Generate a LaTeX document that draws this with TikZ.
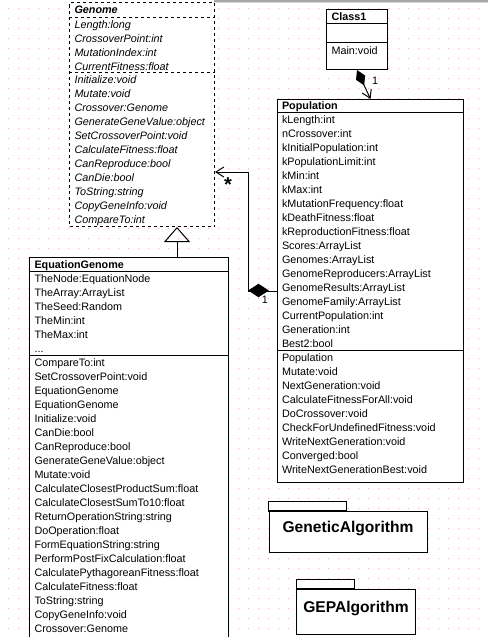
\documentclass[tikz,border=0pt]{standalone}
\usepackage{fontspec}
\setmainfont{Liberation Sans}
\usetikzlibrary{arrows.meta}
\usetikzlibrary{shapes.geometric}
\definecolor{griddot}{RGB}{255,178,190}

\begin{document}
\begin{tikzpicture}[x=1pt, y=-1pt, line width=1pt]
\newcommand{\rowfont}{\fontsize{10.8}{13}\selectfont}
\tikzset{
  cls/.style={draw, fill=white, inner sep=0, anchor=north west},
  row/.style={anchor=base west, inner sep=0, font=\rowfont},
  hd/.style={anchor=base west, inner sep=0, font=\rowfont\bfseries},
  mult/.style={inner sep=0, font=\rowfont},
  tip/.style={-{Straight Barb[length=8pt,width=10pt]}},
  pkgname/.style={inner sep=0, font=\fontsize{15.6}{18}\selectfont\bfseries},
  dsh/.style={dash pattern=on 3pt off 3pt}
}
\useasboundingbox (0,0) rectangle (488,637);
\fill[white] (0,0) rectangle (488,637);
\fill[griddot] \foreach \x in {8,18,...,478} {\foreach \y in {8,18,...,628} {(\x,\y) rectangle ++(1,1)}};
\fill[gray!70] (214,0) rectangle (488,1.5);
\fill[gray!30] (214,1.5) rectangle (488,3);
\node (genome) [cls, dsh, minimum width=145, minimum height=224] at (69,2) {};
\draw[dsh] (genome.west |- 0,17) -- (genome.east |- 0,17) (genome.west |- 0,72) -- (genome.east |- 0,72);
\node[hd, font=\rowfont\bfseries\itshape] (genome-t) at (74,13.5) {Genome};
\foreach \t [count=\i from 0] in {Length:long, CrossoverPoint:int, MutationIndex:int, CurrentFitness:float} \node[row, font=\rowfont\itshape] (ga\i) at (74,28+14*\i) {\t};
\foreach \t [count=\i from 0] in {Initialize:void, Mutate:void, Crossover:Genome, GenerateGeneValue:object, SetCrossoverPoint:void, CalculateFitness:float, CanReproduce:bool, CanDie:bool, ToString:string, CopyGeneInfo:void, CompareTo:int} \node[row, font=\rowfont\itshape] (go\i) at (74,83+14*\i) {\t};
\node (class1) [cls, minimum width=61, minimum height=60] at (326,9) {};
\draw (class1.west |- 0,23) -- (class1.east |- 0,23) (class1.west |- 0,42) -- (class1.east |- 0,42);
\node[hd] (class1-t) at (331,20) {Class1};
\node[row] (class1-m) at (331,54.5) {Main:void};
\node (population) [cls, minimum width=186, minimum height=383] at (277,99) {};
\draw (population.west |- 0,112) -- (population.east |- 0,112) (population.west |- 0,350) -- (population.east |- 0,350);
\node[hd] (population-t) at (281.5,109.5) {Population};
\foreach \t [count=\i from 0] in {kLength:int, nCrossover:int, kInitialPopulation:int, kPopulationLimit:int, kMin:int, kMax:int, kMutationFrequency:float, kDeathFitness:float, kReproductionFitness:float, Scores:ArrayList, Genomes:ArrayList, GenomeReproducers:ArrayList, GenomeResults:ArrayList, GenomeFamily:ArrayList, CurrentPopulation:int, Generation:int, Best2:bool} \node[row] (pa\i) at (281.5,123+14*\i) {\t};
\foreach \t [count=\i from 0] in {Population, Mutate:void, NextGeneration:void, CalculateFitnessForAll:void, DoCrossover:void, CheckForUndefinedFitness:void, WriteNextGeneration:void, Converged:bool, WriteNextGenerationBest:void} \node[row] (po\i) at (281.5,361+14*\i) {\t};
\node (eqgenome) [cls, minimum width=199, minimum height=400] at (28.5,257) {};
\draw (eqgenome.west |- 0,271) -- (eqgenome.east |- 0,271) (eqgenome.west |- 0,355.5) -- (eqgenome.east |- 0,355.5);
\node[hd] (eqgenome-t) at (34,268.5) {EquationGenome};
\foreach \t [count=\i from 0] in {TheNode:EquationNode, TheArray:ArrayList, TheSeed:Random, TheMin:int, TheMax:int} \node[row] (ea\i) at (34,282.5+14*\i) {\t};
\node[row] (ea5) at (34,352.5) {...};
\foreach \t [count=\i from 0] in {CompareTo:int, SetCrossoverPoint:void, EquationGenome, EquationGenome, Initialize:void, CanDie:bool, CanReproduce:bool, GenerateGeneValue:object, Mutate:void, CalculateClosestProductSum:float, CalculateClosestSumTo10:float, ReturnOperationString:string, DoOperation:float, FormEquationString:string, PerformPostFixCalculation:float, CalculatePythagoreanFitness:float, CalculateFitness:float, ToString:string, CopyGeneInfo:void, Crossover:Genome} \node[row] (eo\i) at (34,366.5+14*\i) {\t};
\draw[{Diamond[length=17pt,width=10pt]}-{Straight Barb[length=8pt,width=10pt]}] (class1.south) -- (population.north);
\node[mult] (class1-mult) at (375,81) {1};
\draw[tip] (population.west) -| (248,172) -- (genome.east |- 0,172);
\node (agg) [diamond, fill, inner sep=0, minimum width=21, minimum height=14] at (258.5,290.5) {};
\node[mult] (agg-mult) at (265,300) {1};
\node (star) [inner sep=0, anchor=base, font=\fontsize{20}{20}\selectfont\bfseries] at (228,191) {*};
\draw[-{Triangle[open,length=15pt,width=26pt]}] (eqgenome.north -| 177,0) -- (genome.south -| 177,0);
\node (genalg) [cls, minimum width=158, minimum height=41] at (268.5,511) {};
\draw[fill=white] (genalg.north west) rectangle ++(78,-9.5);
\draw[line width=2pt] (genalg.north west) -- ++(78,0);
\node[pkgname] (genalg-t) at ([yshift=3.4pt]genalg.center) {GeneticAlgorithm};
\node (gepalg) [cls, minimum width=119, minimum height=45] at (296,588.5) {};
\draw[fill=white] (gepalg.north west) rectangle ++(58.5,-9.5);
\draw[line width=2pt] (gepalg.north west) -- ++(58.5,0);
\node[pkgname] (gepalg-t) at ([yshift=3.5pt]gepalg.center) {GEPAlgorithm};
\end{tikzpicture}
\end{document}
